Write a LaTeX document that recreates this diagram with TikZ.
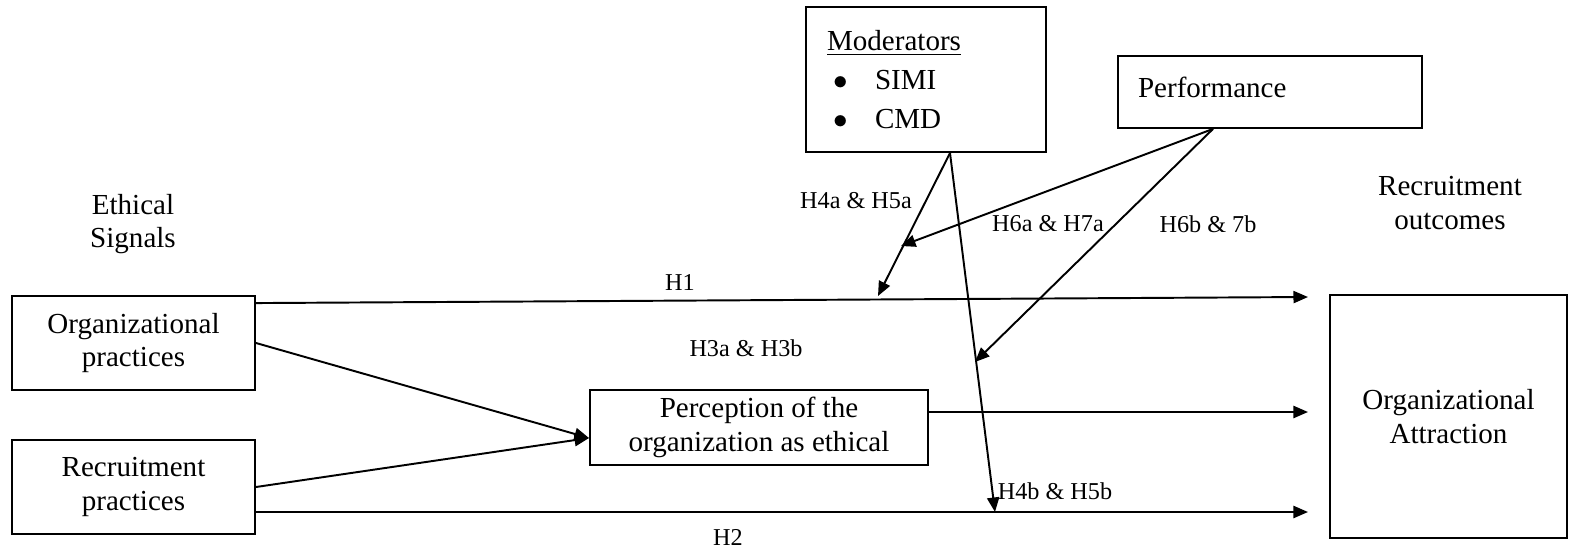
\documentclass[tikz,border=0pt]{standalone}
\usepackage{fontspec}
\setmainfont{Liberation Serif}
\usetikzlibrary{arrows.meta,calc}
\tikzset{
  box/.style={draw, line width=0.8pt, align=center, inner sep=0pt},
  plain/.style={align=center, inner sep=0pt},
  hyp/.style={inner sep=0pt, font=\fontsize{10}{12}\selectfont},
  link/.style={line width=0.8pt},
  arr/.style={link, -{Triangle[length=6pt, width=5pt]}}
}
\newcommand{\moditem}[1]{\hspace{2.5pt}\makebox[17.3pt][l]{$\bullet$}#1}
\begin{document}
\begin{tikzpicture}[x=0.413pt, y=-0.413pt, font=\fontsize{12}{13.8}\selectfont]
                \useasboundingbox (0,0) rectangle (1569,549);
                % boxes
                \node[box, minimum width=100.4pt, minimum height=38.8pt] (org) at (133.5,343) {Organizational\\practices};
                \node[box, minimum width=100.4pt, minimum height=38.8pt] (rec) at (133.5,487) {Recruitment\\practices};
                \node[box, minimum width=139.6pt, minimum height=31pt] (perc) at (759,427.5) {Perception of the\\organization as ethical};
                \node[box, minimum width=97.9pt, minimum height=100.4pt] (attr) at (1448.5,416.5) {Organizational\\Attraction};
                \node[box, minimum height=59.9pt, text width=81.7pt, inner xsep=8.7pt, align=left] (mod) at (926,79.5) {\underline{Moderators}\\[2.2pt]\moditem{SIMI}\\[2.2pt]\moditem{CMD}};
                \node[box, minimum height=29.7pt, text width=109pt, inner xsep=8.3pt, align=left] (perf) at (1270,92) {Performance\rule[-4.2pt]{0pt}{1pt}};
                % headings
                \node[plain] (signals) at (133,224) {Ethical\\Signals};
                \node[plain] (outcomes) at (1450,203) {Recruitment\\outcomes};
                % free ends
                \coordinate (h1end) at (1308,297);
                \coordinate (h2end) at (1308,512);
                \coordinate (h3end) at (1308,412);
                \coordinate (merge) at ($(perc.west)+(0,10.5)$);
                \coordinate (modfoot) at ($(mod.south)+(24,0)$);
                \coordinate (perffoot) at ($(perf.south)+(-57,0)$);
                \coordinate (modtip) at (878,296);
                \coordinate (perftip) at (901,246);
                \coordinate (midtip) at (975,362);
                \coordinate (lowtip) at (995,512);
                % main paths
                \draw[arr] ($(org.north east)+(0,8)$) -- (h1end);
                \draw[arr] ($(rec.east)+(0,25)$) -- (h2end);
                \draw[arr] ($(perc.east)+(0,-15.5)$) -- (h3end);
                \draw[arr] (org.east) -- (merge);
                \draw[arr] (rec.east) -- (merge);
                % moderating paths
                \draw[arr] (modfoot) -- (modtip);
                \draw[arr] (modfoot) -- (lowtip);
                \draw[arr] (perffoot) -- (perftip);
                \draw[arr] (perffoot) -- (midtip);
                % hypothesis labels
                \node[hyp] (h1) at (680,282) {H1};
                \node[hyp] (h2) at (728,537) {H2};
                \node[hyp] (h3) at (746,348) {H3a \& H3b};
                \node[hyp] (h4a) at (856,201) {H4a \& H5a};
                \node[hyp] (h6a) at (1048,224) {H6a \& H7a};
                \node[hyp] (h6b) at (1208,224) {H6b \& 7b};
                \node[hyp] (h4b) at (1055,491) {H4b \& H5b};
            \end{tikzpicture}
\end{document}
